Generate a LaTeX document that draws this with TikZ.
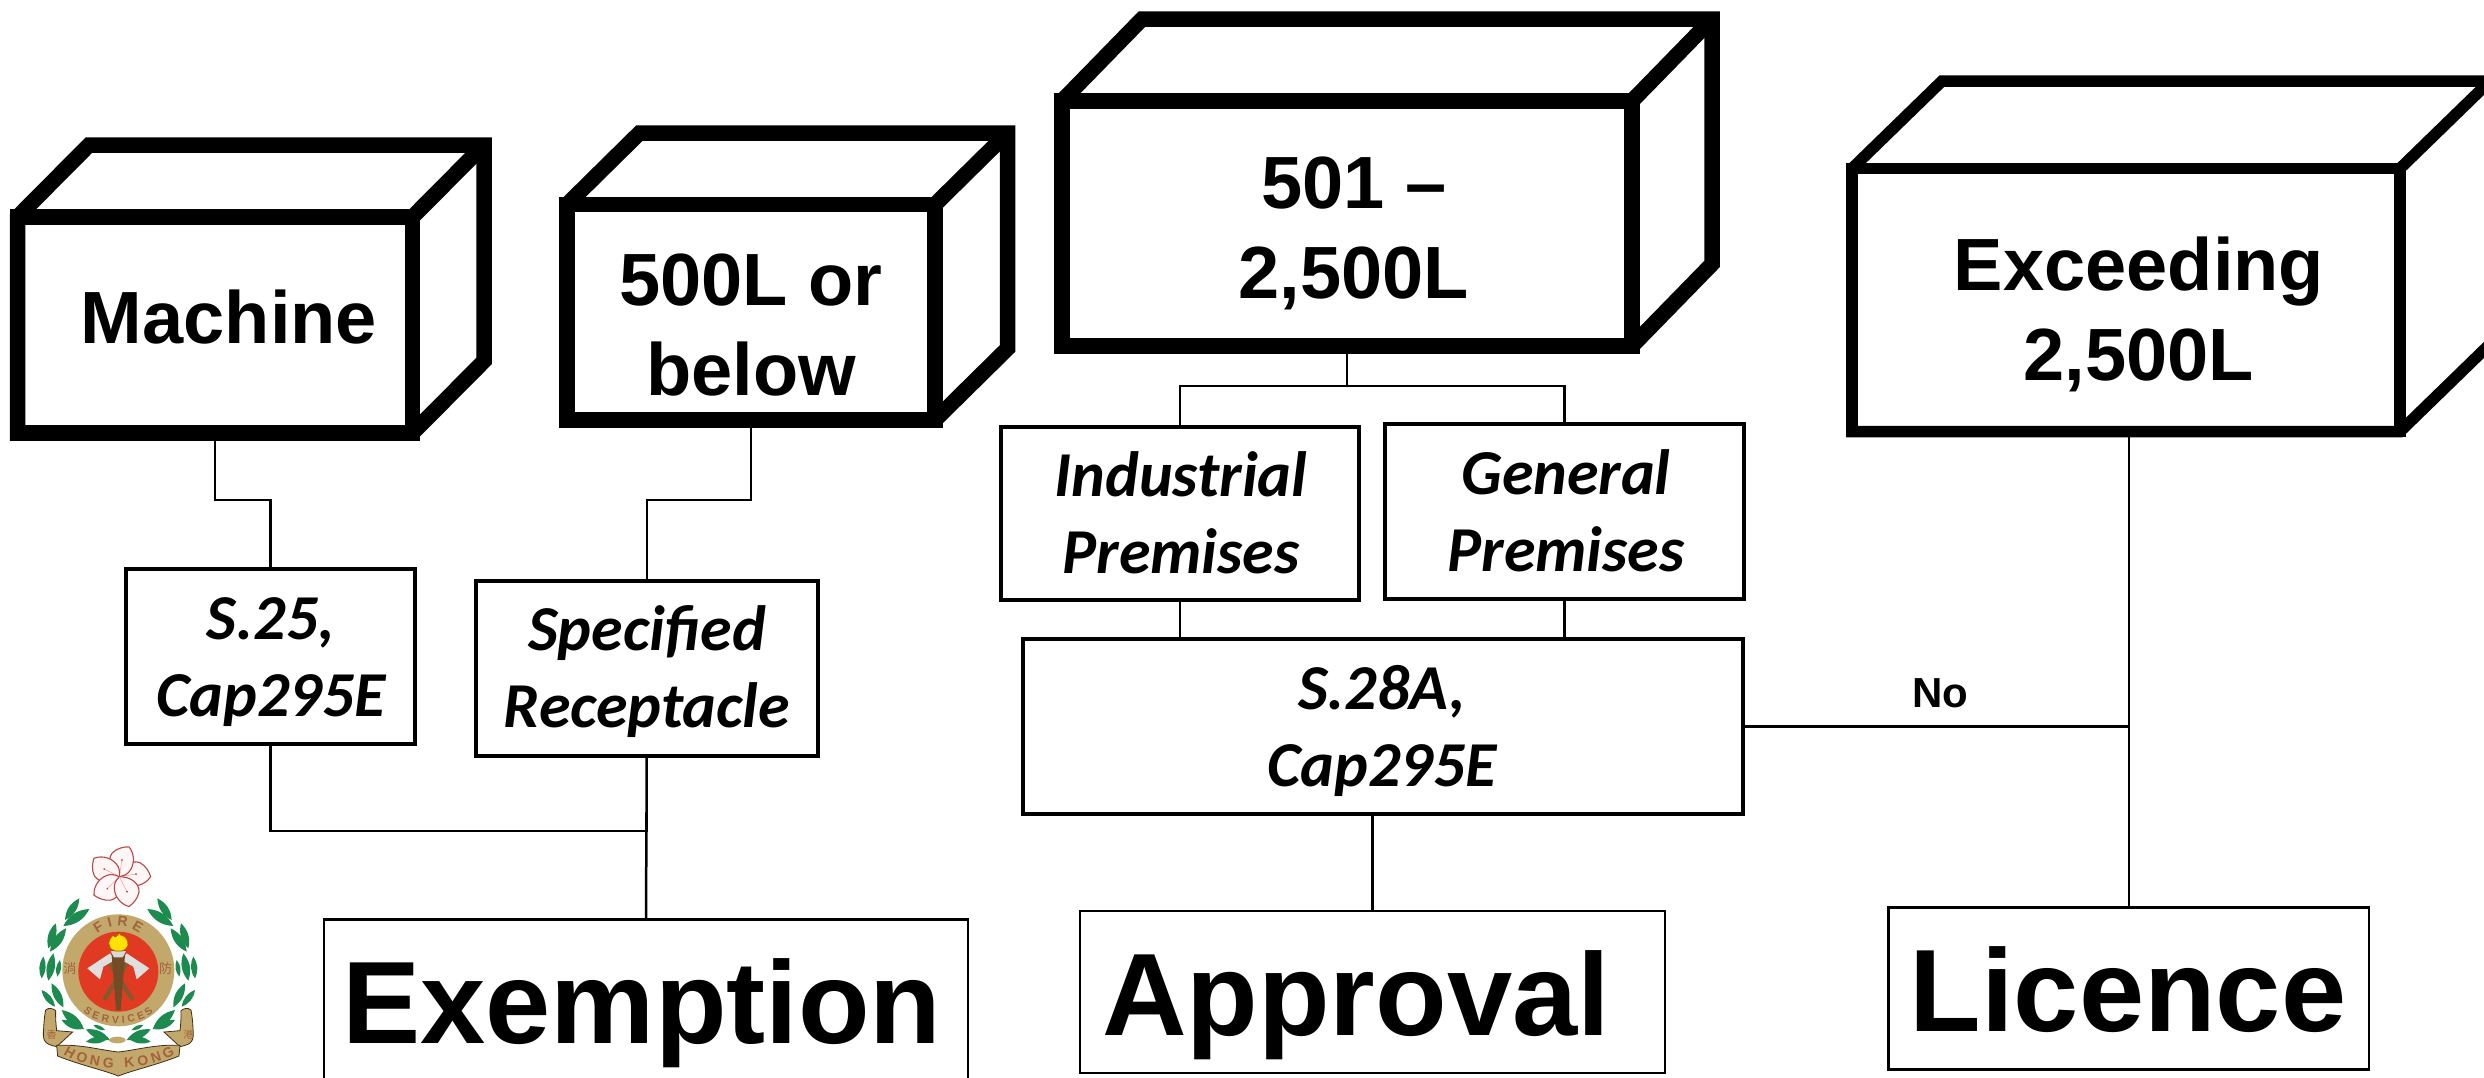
\documentclass[tikz,border=0pt]{standalone}
\usepackage{fontspec}
\setmainfont{Liberation Sans}
\newfontfamily\calfont{Carlito}
\newfontfamily\cjkfont{Noto Sans CJK TC}
\usetikzlibrary{decorations.text}
\definecolor{logotan}{HTML}{C2A96B}
\definecolor{logored}{HTML}{E03A22}
\definecolor{logogreen}{HTML}{1D8B4F}
\definecolor{logobrown}{HTML}{A5603C}
\tikzset{
  x=0.5pt,y=-0.5pt,
  boxnode/.style={draw=black,fill=white,rectangle,outer sep=0pt,inner sep=0pt,line join=miter},
  itembox/.style={boxnode,line width=2pt},
  resultbox/.style={boxnode,line width=1.4pt},
  conn/.style={draw=black,line width=1.25pt,line join=miter},
  cubeheavy/.style={draw=black,line width=7.75pt,line join=miter},
  cubelight/.style={draw=black,line width=5.75pt,line join=miter},
  cubetext/.style={inner sep=0pt,align=center,font=\fontsize{37}{44.75}\selectfont\bfseries},
  itemtext/.style={inner sep=0pt,align=center,font=\fontsize{32}{38.5}\selectfont\calfont\bfseries\itshape},
  bigtext/.style={inner sep=0pt,font=\fontsize{58.6}{70}\selectfont\bfseries},
  notext/.style={inner sep=0pt,font=\fontsize{21}{25}\selectfont\bfseries},
  logochar/.style={inner sep=0pt,text=logobrown},
  petal/.style={fill=white!88!pink,draw=red!45!gray,line width=.55pt},
}
% name, x1, y1, x2, y2, style
\newcommand{\tbox}[6]{\node[#6,minimum width={(#4-#2)*0.5pt},minimum height={(#5-#3)*0.5pt}] (#1) at ({(#2+#4)/2},{(#3+#5)/2}) {};}
% name, x1, y1, x2, y2, dx, dy, style
\newcommand{\cubebox}[8]{%
  \path[#8,fill=white] (#2,#3) -- (#2,#5) -- (#4,#5) -- ({#4+#6},{#5-#7}) -- ({#4+#6},{#3-#7}) -- ({#2+#6},{#3-#7}) -- cycle;
  \path[#8] (#4,#3) -- ({#4+#6},{#3-#7});
  \node[#8,rectangle,outer sep=0pt,inner sep=0pt,minimum width={(#4-#2)*0.5pt},minimum height={(#5-#3)*0.5pt}] (#1) at ({(#2+#4)/2},{(#3+#5)/2}) {};}
\newcommand{\lensleaf}[4]{\fill[logogreen] (#1,#2) to[bend left=30] (#3,#4) to[bend left=30] (#1,#2) -- cycle;}
\newcommand{\wreathleaves}{\foreach \ax/\ay/\bx/\by in {195/300/238/235,190/318/268/267,145/385/167/310,150/395/198/325,125/475/130/410,145/482/160/400,172/470/180/420,125/510/165/560,155/490/190/562,185/570/252/628,185/600/245/628,258/628/330/660,280/615/315/630,258/665/325/655}{\lensleaf{\ax}{\ay}{\bx}{\by}}}
\begin{document}
\begin{tikzpicture}
\useasboundingbox (0,0) rectangle (2484,1077);
\clip (0,0) rectangle (2484,1077);
\fill[white] (0,0) rectangle (2484,1077);

% cubes
\cubebox{machine}{17.5}{217}{412.5}{433}{71.5}{72}{cubeheavy}
\cubebox{small}{567}{204.5}{935}{420}{72.5}{71.5}{cubeheavy}
\cubebox{medium}{1062}{101}{1632}{346}{80}{82}{cubeheavy}
\cubebox{large}{1852}{168.5}{2400}{431.5}{90}{87.5}{cubelight}

% boxes
\tbox{sa}{126}{569}{415}{743.5}{itembox}
\tbox{spec}{476}{581}{817.5}{756}{itembox}
\tbox{ind}{1001}{427}{1359}{600}{itembox}
\tbox{gen}{1385}{424}{1744}{599}{itembox}
\tbox{sb}{1022.5}{639}{1743}{813.5}{itembox}
\tbox{exem}{324}{919.5}{968}{1090}{resultbox}
\tbox{appr}{1080}{911}{1665}{1073}{resultbox}
\tbox{lic}{1888.5}{907.5}{2369}{1069.5}{resultbox}

% junction points
\coordinate (ja) at (243,500);
\coordinate (jb) at (700,500);
\coordinate (jc) at (1300,386);
\coordinate (jd) at (1450,386);
\coordinate (je) at (450,831);

% connectors
\draw[conn] (machine.south) |- (ja) -| (sa.north);
\draw[conn] (small.south) |- (jb) -| (spec.north);
\draw[conn] (medium.south) |- (jc) -| (ind.north);
\draw[conn] (medium.south) |- (jd) -| (gen.north);
\draw[conn] (ind.south) -- (ind.south |- sb.north);
\draw[conn] (gen.south) -- (gen.south |- sb.north);
\draw[conn] (sa.south) |- (je) -| (spec.south);
\draw[conn] (spec.south) -- (exem.north);
\draw[conn] (appr.north |- sb.south) -- (appr.north);
\draw[conn] (lic.north |- large.south) -- (lic.north);
\draw[conn] (sb.east) -- (lic.north |- sb.east);

% texts (anchor=base sits on the last line)
\node[cubetext,anchor=base] (tmachine) at (229,343) {Machine};
\node[cubetext,anchor=base] (tsmall) at (751,395) {500L or\\below};
\node[cubetext,anchor=base] (tmedium) at (1354,298) {501 –\\2,500L};
\node[cubetext,anchor=base] (tlarge) at (2139,380) {Exceeding\\2,500L};
\node[itemtext,anchor=base] (tsa) at (271,716) {S.25,\\Cap295E};
\node[itemtext,anchor=base] (tspec) at (647,727) {Specified\\Receptacle};
\node[itemtext,anchor=base] (tind) at (1181,573) {Industrial\\Premises};
\node[itemtext,anchor=base] (tgen) at (1566,571) {General\\Premises};
\node[itemtext,anchor=base] (tsb) at (1382,786) {S.28A,\\Cap295E};
\node[bigtext,anchor=base] (texem) at (642,1043) {Exemption};
\node[bigtext,anchor=base] (tappr) at (1356,1035) {Approval};
\node[bigtext,anchor=base] (tlic) at (2128,1031) {Licence};
\node[notext,anchor=base] (tno) at (1940,707) {No};

% emblem
\begin{scope}[shift={(0,820)},scale=1/3]
  % flower
  \foreach \a in {0,72,144,216,288}{
    \begin{scope}[shift={(358,170)},rotate=\a]
      \path[petal] (0,0) .. controls (10,-30) and (35,-52) .. (62,-42) .. controls (80,-32) and (90,-14) .. (94,0) .. controls (78,25) and (45,34) .. (20,22) .. controls (10,16) and (4,8) .. (0,0) -- cycle;
      \draw[red!35!white,line width=.3pt] (0,0) -- (50,-8);
      \fill[red!60!gray] (50,-8) circle (3);
    \end{scope}
  }
  % wreath
  \begin{scope}
    \wreathleaves
  \end{scope}
  \begin{scope}[shift={(710,0)},xscale=-1]
    \wreathleaves
  \end{scope}
  % medallion
  \fill[logotan] (355,451) circle (168);
  \fill[logored] (355,455) circle (120);
  % axes and torch
  \draw[brown!70!black,line width=2.2pt] (320,415) -- (398,540);
  \draw[brown!70!black,line width=2.2pt] (390,415) -- (312,540);
  \fill[gray!25] (262,445) -- (330,400) -- (345,420) -- (310,440) -- (300,478) -- cycle;
  \fill[gray!25] (448,445) -- (380,400) -- (365,420) -- (400,440) -- (410,478) -- cycle;
  \fill[brown!60!black] (335,405) -- (375,405) -- (362,570) -- (348,570) -- cycle;
  \fill[gray!30] (332,393) -- (378,393) -- (368,412) -- (342,412) -- cycle;
  \path[fill=yellow!85!orange,draw=orange!70!black,line width=.4pt] (345,393) .. controls (320,385) and (322,360) .. (340,345) .. controls (345,355) and (350,350) .. (358,338) .. controls (362,350) and (370,345) .. (375,350) .. controls (392,370) and (385,388) .. (365,393) -- cycle;
  % ribbon
  \path[fill=logotan,draw=black!65!brown,line width=.4pt] (170,680) .. controls (130,672) and (128,660) .. (131,625) .. controls (132,600) and (135,580) .. (137,570) .. controls (145,562) and (160,565) .. (167,572) .. controls (166,590) and (168,615) .. (170,632) -- (218,636) -- cycle;
  \path[fill=logotan,draw=black!65!brown,line width=.4pt] (540,680) .. controls (580,672) and (582,660) .. (579,625) .. controls (578,600) and (575,580) .. (573,570) .. controls (565,562) and (550,565) .. (543,572) .. controls (544,590) and (542,615) .. (540,632) -- (492,636) -- cycle;
  \path[fill=logotan,draw=black!65!brown,line width=.4pt] (170,676) .. controls (240,672) and (300,690) .. (355,696) .. controls (410,690) and (470,672) .. (540,676) -- (537,708) .. controls (470,735) and (400,750) .. (355,768) .. controls (310,750) and (240,735) .. (173,708) -- cycle;
  \fill[logotan] (352,660) ellipse (25 and 10);
  % emblem lettering
  \path[decorate,decoration={text along path,text align={fit to path},text={|\fontsize{7}{8}\selectfont\bfseries\color{logobrown}|FIRE}}] (292,340) .. controls (330,310) and (380,310) .. (418,340);
  \path[decorate,decoration={text along path,text align={fit to path},text={|\fontsize{5.2}{6}\selectfont\bfseries\color{logobrown}|SERVICES}}] (250,575) .. controls (290,622) and (420,622) .. (460,575);
  \path[decorate,decoration={text along path,text align={fit to path},text={|\fontsize{7}{8}\selectfont\bfseries\color{logobrown}|HONG KONG}}] (190,702) .. controls (270,758) and (440,758) .. (525,702);
  \node[logochar,font=\fontsize{6.5}{7}\selectfont\cjkfont] (cxiao) at (210,445) {消};
  \node[logochar,font=\fontsize{6.5}{7}\selectfont\cjkfont] (cfang) at (497,445) {防};
  \node[logochar,font=\fontsize{5}{6}\selectfont\cjkfont] (cxiang) at (155,645) {香};
  \node[logochar,font=\fontsize{5}{6}\selectfont\cjkfont] (cgang) at (565,645) {港};
\end{scope}
\end{tikzpicture}
\end{document}
